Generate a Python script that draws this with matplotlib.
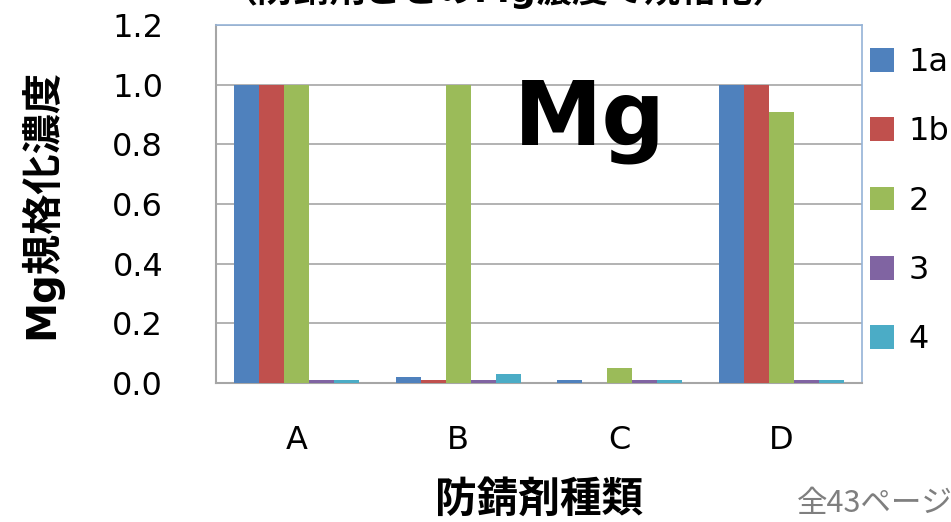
import numpy as np
import matplotlib
matplotlib.use("Agg")
from matplotlib import pyplot as plt

plt.rcParams['font.family'] = ['DejaVu Sans', 'Noto Sans CJK JP']

categories = ['A', 'B', 'C', 'D']
series = ['1a', '1b', '2', '3', '4']
v1a = [1.00, 0.02, 0.01, 1.00]
v1b = [1.00, 0.01, 0.00, 1.00]
v2 = [1.00, 1.00, 0.05, 0.91]
v3 = [0.01, 0.01, 0.01, 0.01]
v4 = [0.01, 0.03, 0.01, 0.01]
colors = ['#4F81BD', '#C0504D', '#9BBB59', '#8064A2', '#4BACC6']

W, H = 951, 522
fig = plt.figure(figsize=(W/100, H/100), dpi=100)
ax = fig.add_axes([216/W, (H-383)/H, (862-216)/W, (383-25)/H])

x = np.arange(len(categories))
bw = 0.155
for i, (vals, name) in enumerate(zip([v1a, v1b, v2, v3, v4], series)):
    ax.bar(x + (i - 2) * bw, vals, bw, color=colors[i], label=name, zorder=3)

ax.set_xlim(-0.5, 3.5)
ax.set_ylim(0, 1.2)
ax.set_yticks(np.arange(0, 1.21, 0.2))
ax.set_yticklabels(['%.1f' % t for t in np.arange(0, 1.21, 0.2)])
ax.set_xticks(x)
ax.set_xticklabels(categories)
ax.yaxis.grid(True, color='#A6A6A6', linewidth=1.2, zorder=0)
ax.tick_params(axis='y', length=0, pad=38, labelsize=23)
ax.tick_params(axis='x', length=0, pad=30, labelsize=23)
for s in ['left', 'bottom']:
    ax.spines[s].set_color('#A6A6A6')
    ax.spines[s].set_linewidth(1.5)
for s in ['top', 'right']:
    ax.spines[s].set_color('#95B3D7')
    ax.spines[s].set_linewidth(1.2)

ax.set_ylabel('Mg規格化濃度', fontsize=29, fontweight='bold', labelpad=36)
ax.set_xlabel('防錆剤種類', fontsize=30, fontweight='bold', labelpad=17)

ax.text(0.579, 0.732, 'Mg', transform=ax.transAxes, fontsize=64,
        fontweight='bold', ha='center', va='center')

leg = ax.legend(loc='upper left', bbox_to_anchor=(870/W, 1 - 47/H),
                bbox_transform=fig.transFigure, frameon=False, fontsize=23,
                handlelength=0.75, handleheight=0.75, handletextpad=0.45,
                labelspacing=1.2, borderaxespad=0, borderpad=0)

fig.text(505/W, 1.0 + 10/H, '（防錆剤ごとのMg濃度で規格化）', fontsize=26,
         fontweight='bold', ha='center', va='center')
fig.text(797/W, 18/H, '全43ページ', fontsize=22, color='#7F7F7F',
         ha='left', va='center', family=['Noto Sans CJK JP'])

fig.savefig('out.png', dpi=100)
